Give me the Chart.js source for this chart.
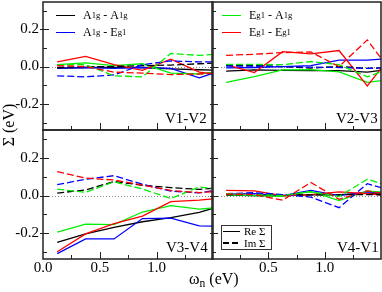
<!DOCTYPE html>
<html>
<head>
<meta charset="utf-8">
<script src="https://cdn.jsdelivr.net/npm/chart.js@4"></script>
<style>
  body { margin: 0; width: 382px; height: 292px; overflow: hidden; position: relative; background: #fff;
         font-family: 'Liberation Serif', 'DejaVu Serif', serif; color: #000; }
  canvas { position: absolute; }
  .txt { position: absolute; white-space: nowrap; line-height: 1; }
  sub { font-size: 0.72em; vertical-align: -0.3em; line-height: 0; }
  .row { position: absolute; height: 16px; display: flex; align-items: center; font-size: 12px; white-space: nowrap; }
  .sw { display: inline-block; width: 19px; height: 0; margin-right: 8px; }
  .box { position: absolute; border: 1px solid #333; box-sizing: border-box; }
</style>
</head>
<body>
<canvas id="tl" width="214" height="132" style="left:0;top:0"></canvas>
<canvas id="tr" width="172" height="132" style="left:210px;top:0"></canvas>
<canvas id="bl" width="214" height="164" style="left:0;top:128px"></canvas>
<canvas id="br" width="172" height="164" style="left:210px;top:128px"></canvas>

<!-- axis titles -->
<div class="txt" style="left:-13px;top:117px;font-size:16px;transform:rotate(-90deg);width:44px;text-align:center">&Sigma; (eV)</div>
<div class="txt" style="left:189px;top:271px;font-size:16px">&omega;<sub>n</sub> (eV)</div>

<!-- panel labels -->
<div class="txt" style="left:165px;top:111px;font-size:15px">V1-V2</div>
<div class="txt" style="left:336px;top:111px;font-size:15px">V2-V3</div>
<div class="txt" style="left:166px;top:240px;font-size:15px">V3-V4</div>
<div class="txt" style="left:337px;top:240px;font-size:15px">V4-V1</div>

<!-- legends -->
<div class="row" style="left:56px;top:7px"><span class="sw" style="border-top:1.5px solid #000"></span>A<sub>1g</sub>&nbsp;-&nbsp;A<sub>1g</sub></div>
<div class="row" style="left:56px;top:24px"><span class="sw" style="border-top:1.5px solid #0000ff"></span>A<sub>1g</sub>&nbsp;-&nbsp;E<sub>g1</sub></div>
<div class="row" style="left:222px;top:7px"><span class="sw" style="border-top:1.5px solid #00ee00"></span>E<sub>g1</sub>&nbsp;-&nbsp;A<sub>1g</sub></div>
<div class="row" style="left:222px;top:24px"><span class="sw" style="border-top:1.5px solid #ff0000"></span>E<sub>g1</sub>&nbsp;-&nbsp;E<sub>g1</sub></div>

<div class="box" style="left:221px;top:225px;width:51px;height:25px"></div>
<div class="row" style="left:223px;top:223px;font-size:11px"><span class="sw" style="width:17px;margin-right:4px;border-top:1.5px solid #000"></span>Re &Sigma;</div>
<div class="row" style="left:223px;top:235px;font-size:11px"><span class="sw" style="width:17px;margin-right:4px;height:1.5px;background:repeating-linear-gradient(90deg,#000 0 6px,transparent 6px 9px)"></span>Im &Sigma;</div>

<script>
// Matsubara frequencies (eV)
const omega = [0.125, 0.375, 0.625, 0.875, 1.125, 1.375, 1.625];
const xTickVals = [0, 0.5, 1.0];
const yTickVals = [-0.2, 0, 0.2];

// V1-V2
const v12ReAA = [-0.010, -0.005, -0.004, -0.005, -0.012, -0.017, -0.022];
const v12ReAE = [-0.008, -0.005, -0.010, -0.005, -0.010, -0.060, -0.010];
const v12ReEA = [0.010, 0.020, 0.005, 0.015, -0.035, -0.040, -0.020];
const v12ReEE = [0.025, 0.055, 0.010, -0.020, 0.040, -0.030, -0.050];
const v12ImAA = [-0.005, 0.000, 0.000, 0.005, 0.008, 0.015, 0.022];
const v12ImAE = [-0.050, -0.055, -0.045, 0.010, 0.030, 0.025, 0.025];
const v12ImEA = [0.010, 0.010, -0.050, -0.055, 0.070, 0.060, 0.070];
const v12ImEE = [0.005, 0.000, -0.030, -0.035, -0.043, -0.040, -0.030];

// V2-V3
const v23ReAA = [-0.025, -0.018, -0.020, -0.022, -0.022, -0.030, -0.010];
const v23ReAE = [-0.007, -0.005, 0.000, 0.005, 0.035, 0.035, 0.045];
const v23ReEA = [-0.085, -0.054, -0.018, -0.016, -0.028, -0.085, -0.065];
const v23ReEE = [0.010, -0.032, 0.080, 0.068, 0.086, -0.104, 0.090];
const v23ImAA = [0.008, 0.005, 0.000, -0.008, 0.000, -0.010, -0.005];
const v23ImAE = [0.003, 0.002, 0.000, -0.003, -0.005, -0.010, -0.005];
const v23ImEA = [0.012, 0.012, 0.010, 0.027, 0.010, -0.055, 0.000];
const v23ImEE = [0.060, 0.066, 0.075, 0.078, 0.000, 0.143, -0.060];

// V3-V4
const v34ReAA = [-0.250, -0.205, -0.170, -0.140, -0.118, -0.090, -0.045];
const v34ReAE = [-0.310, -0.232, -0.232, -0.123, -0.121, -0.162, -0.165];
const v34ReEA = [-0.195, -0.153, -0.155, -0.088, -0.054, -0.073, -0.060];
const v34ReEE = [-0.300, -0.205, -0.150, -0.110, -0.033, -0.025, -0.010];
const v34ImAA = [0.013, 0.030, 0.075, 0.055, 0.042, 0.033, 0.045];
const v34ImAE = [0.058, 0.087, 0.106, 0.060, 0.023, 0.014, 0.040];
const v34ImEA = [0.034, 0.017, 0.073, 0.035, -0.016, 0.046, 0.030];
const v34ImEE = [0.128, 0.093, 0.083, 0.056, 0.027, 0.016, 0.025];

// V4-V1
const v41ReAA = [0.002, 0.000, 0.000, 0.003, 0.005, 0.012, 0.015];
const v41ReAE = [0.008, 0.010, 0.000, 0.028, 0.000, 0.020, 0.012];
const v41ReEA = [0.003, 0.000, -0.005, 0.022, -0.027, 0.025, 0.010];
const v41ReEE = [0.027, 0.025, 0.000, 0.005, 0.020, 0.010, -0.005];
const v41ImAA = [0.005, 0.005, 0.005, 0.003, 0.005, 0.005, 0.003];
const v41ImAE = [0.010, 0.015, 0.005, -0.008, -0.065, 0.063, 0.020];
const v41ImEA = [0.010, 0.005, 0.000, 0.020, -0.005, 0.087, 0.040];
const v41ImEE = [0.008, 0.005, -0.025, 0.070, -0.020, 0.025, 0.000];

const colAA = '#000000', colAE = '#0000ff', colEA = '#00ee00', colEE = '#ff0000';

Chart.defaults.font.family = "'Liberation Serif', serif";
Chart.defaults.color = '#000';

// zero line, frame and inward tick marks
const framePlugin = {
  id: 'frame',
  beforeDatasetsDraw(chart) {
    const { ctx, chartArea: a, scales: { y } } = chart;
    const y0 = Math.round(y.getPixelForValue(0)) + 0.5;
    ctx.save();
    ctx.strokeStyle = '#888';
    ctx.lineWidth = 1;
    ctx.setLineDash([1, 2]);
    ctx.beginPath(); ctx.moveTo(a.left, y0); ctx.lineTo(a.right, y0); ctx.stroke();
    ctx.restore();
  },
  afterDatasetsDraw(chart) {
    const { ctx, chartArea: a, scales: { x, y } } = chart;
    ctx.save();
    ctx.strokeStyle = '#222';
    ctx.lineWidth = 1;
    ctx.beginPath();
    for (let i = -3; i <= 3; i++) {
      const py = Math.round(y.getPixelForValue(i / 10)) + 0.5;
      const major = i % 2 === 0;
      ctx.moveTo(a.left - (major ? 3 : 0), py);
      ctx.lineTo(a.left + (major ? 6 : 4), py);
    }
    for (let i = 1; i <= 5; i++) {
      const px = Math.round(x.getPixelForValue(i / 4)) + 0.5;
      const major = i % 2 === 0;
      ctx.moveTo(px, a.bottom);
      ctx.lineTo(px, a.bottom - (major ? 7 : 4));
    }
    ctx.stroke();
    ctx.lineWidth = 1.5;
    ctx.strokeRect(a.left, a.top, a.right - a.left, a.bottom - a.top);
    ctx.restore();
  }
};

function noPad(s) {
  s.paddingTop = 0; s.paddingBottom = 0; s.paddingLeft = 0; s.paddingRight = 0;
}

function makePanel(id, re, im, isLeft, isBottom, yMin, yMax) {
  const colors = [colEE, colEA, colAE, colAA];
  const datasets = [];
  [im, re].forEach((set, k) => {
    set.forEach((arr, j) => {
      datasets.push({
        data: omega.map((w, i) => ({ x: w, y: arr[i] })),
        borderColor: colors[j],
        borderWidth: 1.3,
        borderDash: k === 0 ? [7, 3] : [],
        pointRadius: 0,
        tension: 0,
        fill: false,
        clip: 0
      });
    });
  });

  new Chart(document.getElementById(id), {
    type: 'line',
    data: { datasets },
    options: {
      responsive: false,
      animation: false,
      events: [],
      layout: { padding: { left: isLeft ? 0 : 2, right: 1, top: 2, bottom: isBottom ? 0 : 2 } },
      plugins: { legend: { display: false }, tooltip: { enabled: false } },
      scales: {
        x: {
          type: 'linear', min: 0, max: 1.496,
          display: isBottom,
          grid: { display: false, drawTicks: false },
          border: { display: false },
          afterBuildTicks: s => { s.ticks = xTickVals.map(v => ({ value: v })); },
          ticks: {
            padding: 0,
            font: { size: 15 },
            maxRotation: 0,
            callback: v => (!isLeft && v === 0) ? '' : v.toFixed(1)
          },
          afterFit: s => { if (isBottom) s.height = 33; noPad(s); }
        },
        y: {
          type: 'linear', min: yMin, max: yMax,
          display: isLeft,
          grid: { display: false, drawTicks: false },
          border: { display: false },
          afterBuildTicks: s => { s.ticks = yTickVals.map(v => ({ value: v })); },
          ticks: {
            padding: 4,
            font: { size: 15 },
            callback: v => v.toFixed(1)
          },
          afterFit: s => { if (isLeft) s.width = 43; noPad(s); }
        }
      }
    },
    plugins: [framePlugin]
  });
}

makePanel('tl', [v12ReEE, v12ReEA, v12ReAE, v12ReAA], [v12ImEE, v12ImEA, v12ImAE, v12ImAA], true, false, -0.34, 0.346);
makePanel('tr', [v23ReEE, v23ReEA, v23ReAE, v23ReAA], [v23ImEE, v23ImEA, v23ImAE, v23ImAA], false, false, -0.34, 0.346);
makePanel('bl', [v34ReEE, v34ReEA, v34ReAE, v34ReAA], [v34ImEE, v34ImEA, v34ImAE, v34ImAA], true, true, -0.339, 0.35);
makePanel('br', [v41ReEE, v41ReEA, v41ReAE, v41ReAA], [v41ImEE, v41ImEA, v41ImAE, v41ImAA], false, true, -0.339, 0.35);
</script>
</body>
</html>
